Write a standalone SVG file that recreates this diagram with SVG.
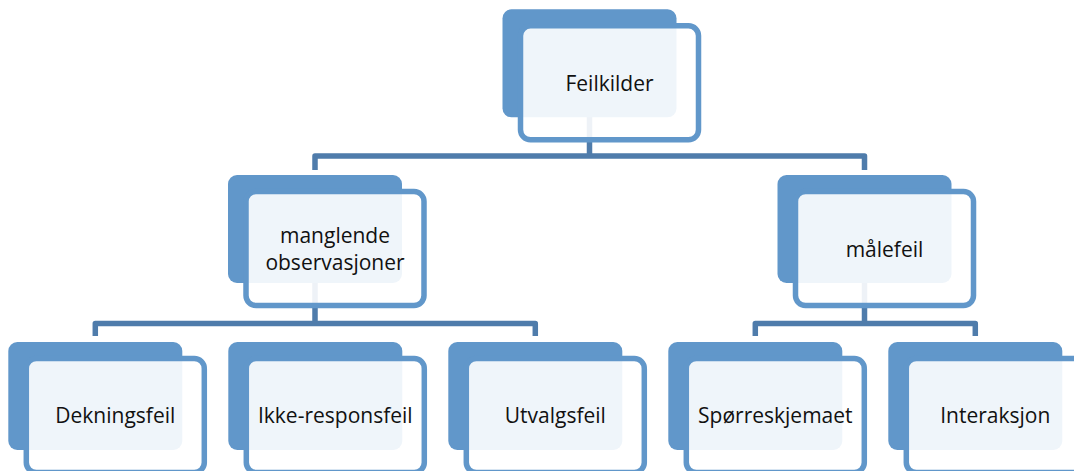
<svg xmlns="http://www.w3.org/2000/svg" width="1074" height="471" viewBox="0 0 1074 471">
  <style>
    .back { fill: #6197ca; }
    .front { fill: #ffffff; fill-opacity: 0.9; stroke: #6197ca; stroke-width: 5.5; }
    .conn { fill: none; stroke: #4f7cab; stroke-width: 5.5; stroke-linejoin: round; stroke-linecap: butt; }
    .lbl { font-family: "Open Sans", "Liberation Sans", sans-serif; font-size: 21px; fill: #111111; text-anchor: middle; }
  </style>
  <rect width="1074" height="471" fill="#ffffff"/>
  <g id="connectors">
    <path class="conn" d="M315,170 V156 H864.5 V170 M589.5,110 V156"/>
    <path class="conn" d="M95.3,336 V323.5 H535.3 V336 M315,276 V323.5"/>
    <path class="conn" d="M755.3,336 V323.5 H975.3 V336 M864.5,276 V323.5"/>
  </g>
  <g id="node-feilkilder">
    <rect class="back" x="502.5" y="9.3" width="174" height="108" rx="9"/>
    <rect class="front" x="520.5" y="25.8" width="178" height="114" rx="10"/>
    <text class="lbl" x="609.5" y="91">Feilkilder</text>
  </g>
  <g id="node-manglende">
    <rect class="back" x="228" y="175" width="174" height="108" rx="9"/>
    <rect class="front" x="246" y="191.5" width="178" height="114" rx="10"/>
    <text class="lbl" x="335" y="243">manglende</text>
    <text class="lbl" x="335" y="270">observasjoner</text>
  </g>
  <g id="node-malefeil">
    <rect class="back" x="777.5" y="175" width="174" height="108" rx="9"/>
    <rect class="front" x="795.5" y="191.5" width="178" height="114" rx="10"/>
    <text class="lbl" x="884.5" y="257">målefeil</text>
  </g>
  <g id="node-dekningsfeil">
    <rect class="back" x="8.3" y="342" width="174" height="108" rx="9"/>
    <rect class="front" x="26.3" y="358.5" width="178" height="114" rx="10"/>
    <text class="lbl" x="115.3" y="423">Dekningsfeil</text>
  </g>
  <g id="node-ikke-responsfeil">
    <rect class="back" x="228.3" y="342" width="174" height="108" rx="9"/>
    <rect class="front" x="246.3" y="358.5" width="178" height="114" rx="10"/>
    <text class="lbl" x="335.3" y="423">Ikke-responsfeil</text>
  </g>
  <g id="node-utvalgsfeil">
    <rect class="back" x="448.3" y="342" width="174" height="108" rx="9"/>
    <rect class="front" x="466.3" y="358.5" width="178" height="114" rx="10"/>
    <text class="lbl" x="555.3" y="423">Utvalgsfeil</text>
  </g>
  <g id="node-sporreskjemaet">
    <rect class="back" x="668.3" y="342" width="174" height="108" rx="9"/>
    <rect class="front" x="686.3" y="358.5" width="178" height="114" rx="10"/>
    <text class="lbl" x="775.3" y="423">Spørreskjemaet</text>
  </g>
  <g id="node-interaksjon">
    <rect class="back" x="888.3" y="342" width="174" height="108" rx="9"/>
    <rect class="front" x="906.3" y="358.5" width="178" height="114" rx="10"/>
    <text class="lbl" x="995.3" y="423">Interaksjon</text>
  </g>
</svg>
